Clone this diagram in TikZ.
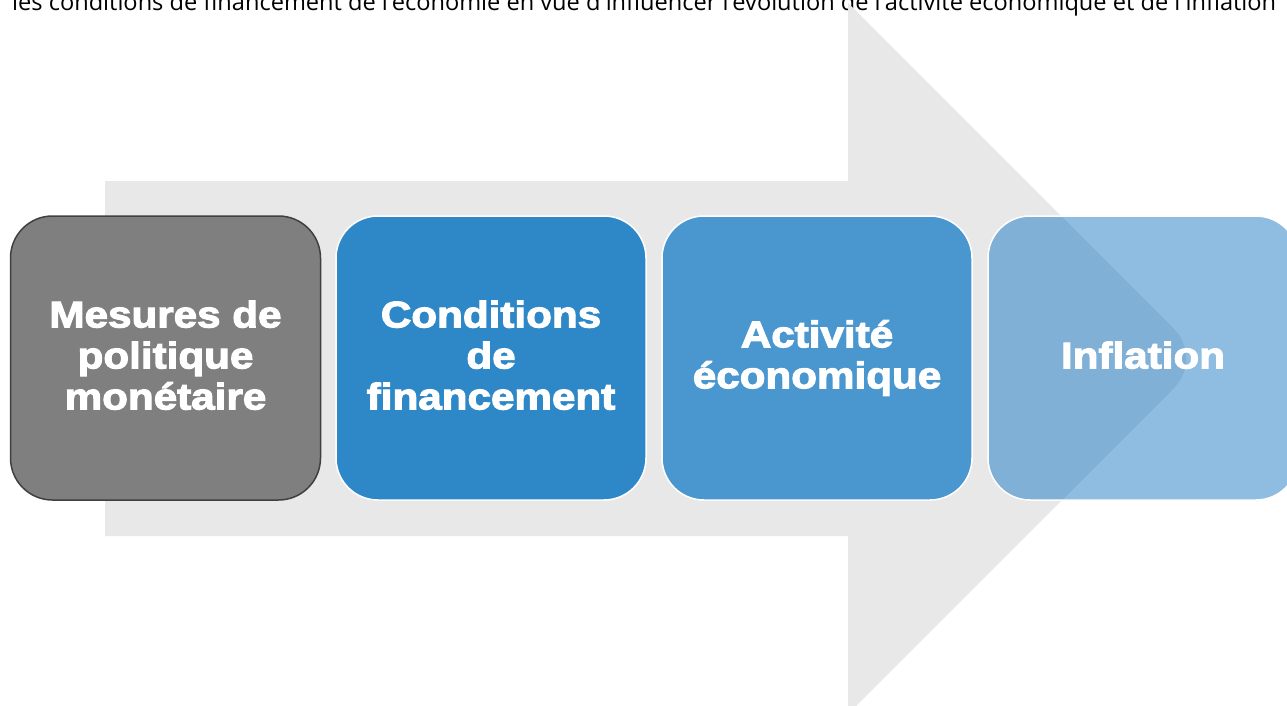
\documentclass[tikz,border=0pt]{standalone}
\usepackage{fontspec}
\newfontfamily\captionfont{Open Sans}
\newfontfamily\boxfont{Liberation Sans}[BoldFeatures={FakeBold=3,FakeStretch=1.14}]
\definecolor{arrowgray}{HTML}{E8E8E8}
\definecolor{stepgray}{HTML}{7F7F7F}
\definecolor{stepedge}{HTML}{404040}
\definecolor{stepblueA}{HTML}{2E88C8}
\definecolor{stepblueB}{HTML}{4A97D0}
\definecolor{stepblueC}{HTML}{8FBDE2}
\definecolor{stepblueCdark}{HTML}{80B0D6}
\tikzset{
  stepbox/.style={rectangle, rounded corners=42pt, minimum width=310pt,
    minimum height=284pt, inner sep=0pt, outer sep=0pt, line width=1.5pt,
    draw=white, text=white, align=center,
    font=\boxfont\bfseries\fontsize{37}{41}\selectfont},
}
\begin{document}
\begin{tikzpicture}[x=1pt,y=-1pt]
  % canvas
  \coordinate (canvasNW) at (0,0);
  \coordinate (canvasSE) at (1287,705);
  \path[use as bounding box] (canvasNW) rectangle (canvasSE);
  \clip (canvasNW) rectangle (canvasSE);

  % outline of the large background arrow
  \coordinate (shaftNW) at (105,181);
  \coordinate (shaftNE) at (848,181);
  \coordinate (headN)   at (848,3);
  \coordinate (tip)     at (1203.5,358.5);
  \coordinate (headS)   at (848,714);
  \coordinate (shaftSE) at (848,536);
  \coordinate (shaftSW) at (105,536);

  % caption line running off the top edge
  \node[anchor=base west, inner sep=0pt, font=\captionfont\fontsize{23.6}{28}\selectfont]
    (caption) at (12,10)
    {les conditions de financement de l'économie en vue d'influencer l'évolution de l'activité économique et de l'inflation};

  % background arrow
  \fill[arrowgray] (shaftNW) -- (shaftNE) -- (headN) -- (tip) -- (headS)
    -- (shaftSE) -- (shaftSW) -- cycle;

  % the four steps
  \node[stepbox, fill=stepgray, draw=stepedge, text depth=6pt] (mesures) at (165.5,358)
    {Mesures de\\politique\\monétaire};
  \node[stepbox, fill=stepblueA, text depth=6pt] (conditions) at (491,358)
    {Conditions\\de\\financement};
  \node[stepbox, fill=stepblueB] (activite) at (817,358)
    {Activité\\économique};
  \node[stepbox, fill=stepblueC, text depth=6pt,
    path picture={\fill[stepblueCdark] (headN) -- (tip) -- (headS) -- cycle;}]
    (inflation) at (1143,358) {Inflation};
\end{tikzpicture}
\end{document}
